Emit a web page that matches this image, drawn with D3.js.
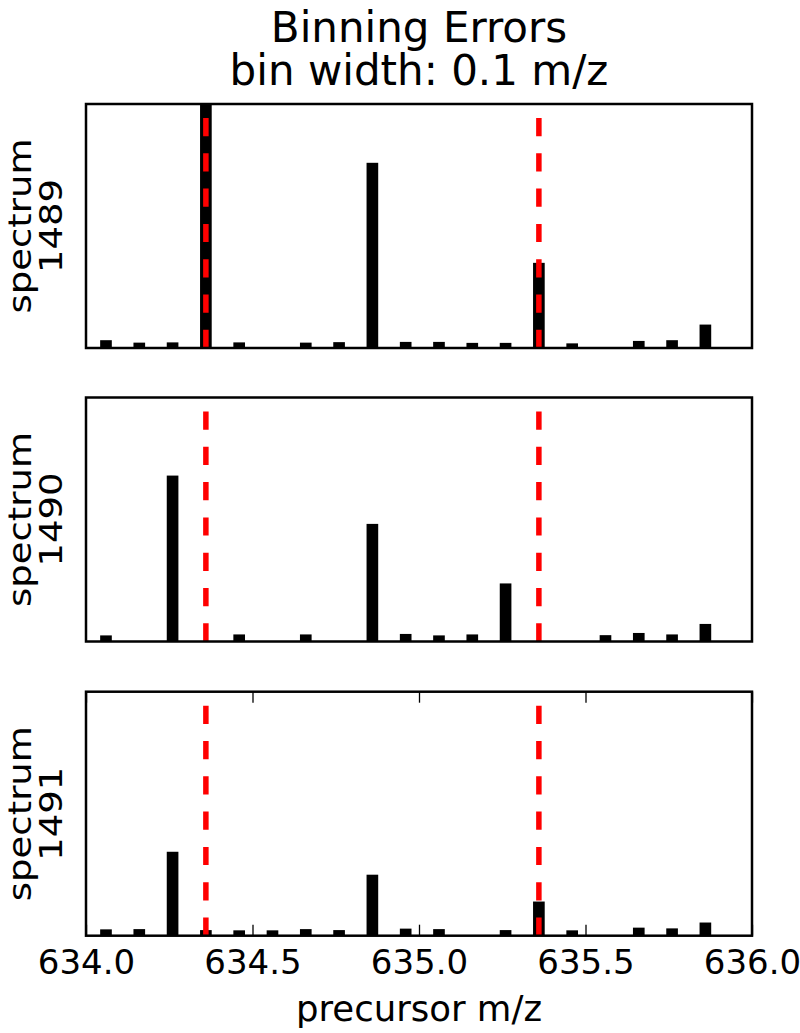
<!DOCTYPE html>
<html>
<head>
<meta charset="utf-8">
<title>Binning Errors</title>
<style>
  body { margin: 0; background: #fff; }
  text { font-family: "DejaVu Sans", sans-serif; fill: #000; }
</style>
</head>
<body>
<svg width="800" height="1033"></svg>
<script src="https://d3js.org/d3.v7.min.js"></script>
<script>

// bin centres (precursor m/z) - bin width 0.1
var bins = [634.06, 634.16, 634.26, 634.36, 634.46, 634.56, 634.66, 634.76, 634.86, 634.96,
            635.06, 635.16, 635.26, 635.36, 635.46, 635.56, 635.66, 635.76, 635.86, 635.96];

// relative intensity per bin
var spec1489 = [0.032, 0.022, 0.023, 1.0, 0.023, 0, 0.022, 0.024, 0.759, 0.025,
                0.025, 0.021, 0.021, 0.349, 0.019, 0, 0.029, 0.032, 0.096, 0];
var spec1490 = [0.025, 0, 0.68, 0, 0.029, 0, 0.029, 0, 0.482, 0.031,
                0.025, 0.029, 0.238, 0, 0, 0.026, 0.035, 0.029, 0.072, 0];
var spec1491 = [0.026, 0.027, 0.344, 0.023, 0.022, 0.022, 0.027, 0.023, 0.25, 0.029,
                0.027, 0, 0.023, 0.14, 0.022, 0, 0.033, 0.030, 0.054, 0];

var spectra = ["1489", "1490", "1491"];
var precursors = [634.36, 635.36];
var xTicks = [634.0, 634.5, 635.0, 635.5, 636.0];
var barWidth = 0.035;

var series = [spec1489, spec1490, spec1491];

var svg = d3.select("svg");

var left = 86, right = 752;
var tops = [104, 397.5, 691.7];
var panelH = 244;

var x = d3.scaleLinear().domain([634, 636]).range([left, right]);

// title
svg.append("text").attr("x", 419).attr("y", 42)
  .attr("text-anchor", "middle").style("font-size", "42px").text("Binning Errors");
svg.append("text").attr("x", 419).attr("y", 85)
  .attr("text-anchor", "middle").style("font-size", "42px").text("bin width: 0.1 m/z");

series.forEach(function(vals, i) {
  var top = tops[i];
  var y = d3.scaleLinear().domain([0, 1]).range([top + panelH, top]);

  var g = svg.append("g");

  g.append("clipPath").attr("id", "clip" + i)
    .append("rect").attr("x", left).attr("y", top)
    .attr("width", right - left).attr("height", panelH);

  var plot = g.append("g").attr("clip-path", "url(#clip" + i + ")");

  plot.selectAll("rect.bar")
    .data(bins.map(function(b, j) { return { mz: b, v: vals[j] }; })
      .filter(function(d) { return d.v > 0; }))
    .enter().append("rect")
    .attr("class", "bar")
    .attr("x", function(d) { return x(d.mz - barWidth / 2); })
    .attr("width", function(d) { return x(d.mz + barWidth / 2) - x(d.mz - barWidth / 2); })
    .attr("y", function(d) { return y(d.v); })
    .attr("height", function(d) { return y(0) - y(d.v); })
    .attr("fill", "#000");

  plot.selectAll("line.prec")
    .data(precursors)
    .enter().append("line")
    .attr("class", "prec")
    .attr("x1", function(d) { return x(d); })
    .attr("x2", function(d) { return x(d); })
    .attr("y1", y(0))
    .attr("y2", y(1))
    .attr("stroke", "#ff0000")
    .attr("stroke-width", 5.5)
    .attr("stroke-dasharray", "18.2 17.1");

  // ticks only on the bottom panel
  if (i === series.length - 1) {
    var axB = d3.axisBottom(x).tickValues(xTicks).tickSizeInner(-11).tickSizeOuter(0)
      .tickPadding(14).tickFormat(d3.format(".1f"));
    var gb = g.append("g").attr("transform", "translate(0," + (top + panelH) + ")").call(axB);
    gb.select(".domain").remove();
    gb.selectAll("line").attr("stroke-width", 1.3);
    gb.selectAll("text").style("font-size", "34px").attr("dy", "0.71em");

    var axT = d3.axisTop(x).tickValues(xTicks).tickSizeInner(-11).tickSizeOuter(0).tickFormat("");
    var gt = g.append("g").attr("transform", "translate(0," + top + ")").call(axT);
    gt.select(".domain").remove();
    gt.selectAll("line").attr("stroke-width", 1.3);
  }

  // frame
  g.append("rect").attr("x", left).attr("y", top)
    .attr("width", right - left).attr("height", panelH)
    .attr("fill", "none").attr("stroke", "#000").attr("stroke-width", 2.5);

  // y label (glyphs a bit narrower across the line, as in the picture)
  var cy = top + panelH / 2;
  svg.append("text").attr("transform", "translate(31," + cy + ") rotate(-90) scale(1,0.86)")
    .attr("text-anchor", "middle").style("font-size", "37px").text("spectrum");
  svg.append("text").attr("transform", "translate(62," + cy + ") rotate(-90) scale(1,0.86)")
    .attr("text-anchor", "middle").style("font-size", "37px").text(spectra[i]);
});

svg.append("text").attr("x", 419).attr("y", 1021)
  .attr("text-anchor", "middle").style("font-size", "35.5px").text("precursor m/z");

</script>
</body>
</html>
